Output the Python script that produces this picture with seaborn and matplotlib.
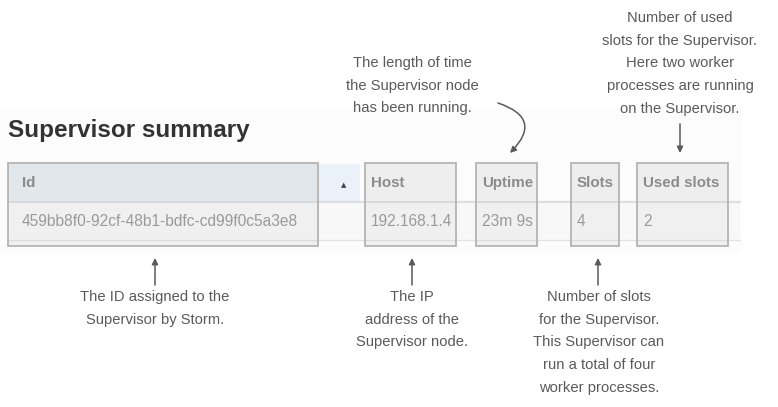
import matplotlib
matplotlib.use("Agg")
import matplotlib.pyplot as plt
import seaborn as sns
from matplotlib.patches import Rectangle

# ---- data ----
title = "Supervisor summary"
headers = ["Id", "Host", "Uptime", "Slots", "Used slots"]
values = ["459bb8f0-92cf-48b1-bdfc-cd99f0c5a3e8", "192.168.1.4", "23m 9s", "4", "2"]
top_notes = [
    "The length of time\nthe Supervisor node\nhas been running.",
    "Number of used\nslots for the Supervisor.\nHere two worker\nprocesses are running\non the Supervisor.",
]
bottom_notes = [
    "The ID assigned to the\nSupervisor by Storm.",
    "The IP\naddress of the\nSupervisor node.",
    "Number of slots\nfor the Supervisor.\nThis Supervisor can\nrun a total of four\nworker processes.",
]

# ---- layout (pixels) ----
W, H = 778, 407
box_x = [(8, 318), (365, 456), (476, 537), (571, 619), (637, 728)]
box_top, head_bot, row_bot, box_bot = 163, 202, 240, 246

sns.set_theme(style="white")
plt.rcParams["font.family"] = ["Liberation Sans", "DejaVu Sans"]

fig = plt.figure(figsize=(W / 100, H / 100), dpi=100)
ax = fig.add_axes([0, 0, 1, 1])
ax.set_xlim(0, W)
ax.set_ylim(H, 0)
ax.axis("off")

note_c = "#5a5a5a"
note_fs = 10.6
line_h = 22.7

# screenshot background
ax.add_patch(Rectangle((0, 108), 742, 145, facecolor="#fcfcfc", edgecolor="none", zorder=0))
# header band (sorted column highlight)
ax.add_patch(Rectangle((10, box_top + 1), 350, head_bot - box_top - 1, facecolor="#eaf1f8", edgecolor="none", zorder=1))
# data row band
ax.add_patch(Rectangle((10, head_bot), 730, row_bot - head_bot, facecolor="#f8f8f8", edgecolor="none", zorder=1))
ax.plot([10, 740], [head_bot, head_bot], color="#dedede", lw=1.6, zorder=2)
ax.plot([10, 740], [row_bot, row_bot], color="#e4e4e4", lw=1.0, zorder=2)

# sort arrow
ax.text(344, 185, "\u25b2", fontsize=5, color="#444444", ha="center", va="center", family="DejaVu Sans", zorder=5)

# column boxes
for i, ((x0, x1), hname, val) in enumerate(zip(box_x, headers, values)):
    hfill = "#e1e7ea" if i == 0 else "#eeeeee"
    ax.add_patch(Rectangle((x0, box_top), x1 - x0, head_bot - box_top, facecolor=hfill, edgecolor="none", zorder=3))
    ax.add_patch(Rectangle((x0, head_bot), x1 - x0, box_bot - head_bot, facecolor="#f0f0f0", edgecolor="none", zorder=3))
    ax.plot([x0, x1], [head_bot, head_bot], color="#d8d8d8", lw=1.4, zorder=4)
    ax.plot([x0, x1], [row_bot, row_bot], color="#dcdcdc", lw=1.0, zorder=4)
    ax.add_patch(Rectangle((x0, box_top), x1 - x0, box_bot - box_top, facecolor="none", edgecolor="#b4b4b4", lw=1.3, zorder=5))
    tx = 22 if i == 0 else x0 + 6
    ax.text(tx, 183, hname, fontsize=10.9, fontweight="bold", color="#8c8c8c", ha="left", va="center", zorder=6)
    ax.text(tx, 222, val, fontsize=11.2, color="#9a9a9a", ha="left", va="center", zorder=6)

# title
ax.text(8, 130, title, fontsize=17.5, fontweight="bold", color="#333333", ha="left", va="center", zorder=6)


def put_lines(text, cx, y0):
    for k, line in enumerate(text.split("\n")):
        ax.text(cx, y0 + k * line_h, line, fontsize=note_fs, color=note_c, ha="center", va="center", zorder=6)


# top notes
put_lines(top_notes[0], 412, 63)
put_lines(top_notes[1], 680, 18)
# bottom notes
for note, cx in zip(bottom_notes, [155, 412, 599]):
    put_lines(note, cx, 297)

arrow_kw = dict(arrowstyle="-|>", color=note_c, lw=1.1, mutation_scale=9, shrinkA=0, shrinkB=0)
# bottom arrows (pointing up)
for cx in [155, 412, 598]:
    ax.annotate("", xy=(cx, 258), xytext=(cx, 285), arrowprops=arrow_kw)
# used slots arrow (pointing down)
ax.annotate("", xy=(680, 153), xytext=(680, 124), arrowprops=arrow_kw)
# curved uptime arrow
ax.annotate("", xy=(510, 153), xytext=(498, 103),
            arrowprops=dict(arrow_kw, connectionstyle="arc3,rad=-0.8"))

fig.savefig("out.png", dpi=100)
